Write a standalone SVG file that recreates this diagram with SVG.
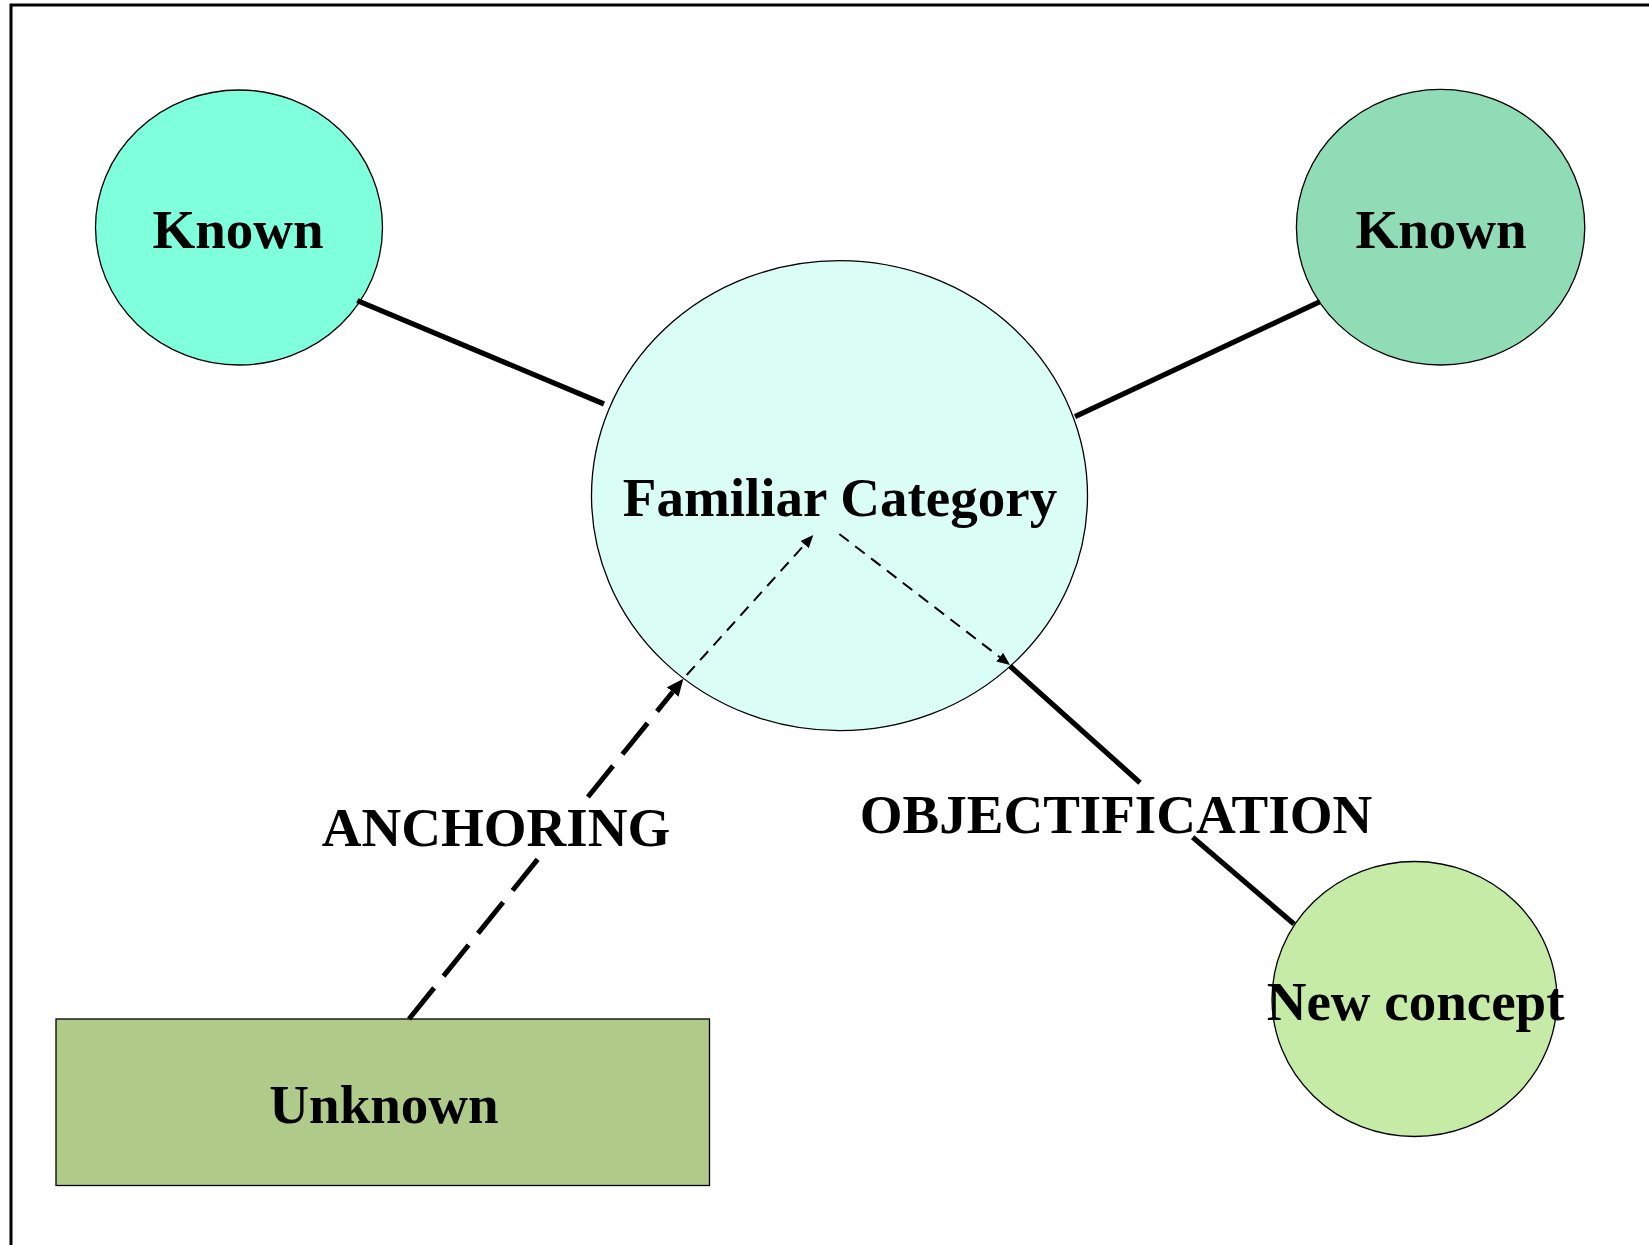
<svg xmlns="http://www.w3.org/2000/svg" width="1649" height="1245" viewBox="0 0 1649 1245">
  <style>
    .node { stroke: #000; stroke-width: 1.3; }
    .lbl { font-family: "Liberation Serif", "Times New Roman", serif; font-weight: bold; font-size: 55px; fill: #000; text-anchor: middle; }
    .solid { stroke: #000; stroke-width: 5.2; fill: none; }
    .thickdash { stroke: #000; stroke-width: 5; fill: none; stroke-dasharray: 40 15; }
    .thindash { stroke: #000; stroke-width: 2; fill: none; stroke-dasharray: 12 8; }
  </style>
  <defs>
    <marker id="headBig" markerUnits="userSpaceOnUse" markerWidth="17" markerHeight="15" refX="0" refY="7.5" orient="auto" viewBox="0 0 17 15">
      <path d="M0,0 L17,7.5 L0,15 z" fill="#000"/>
    </marker>
    <marker id="headSmall" markerUnits="userSpaceOnUse" markerWidth="13" markerHeight="11" refX="0" refY="5.5" orient="auto" viewBox="0 0 13 11">
      <path d="M0,0 L13,5.5 L0,11 z" fill="#000"/>
    </marker>
  </defs>

  <rect width="1649" height="1245" fill="#fff"/>
  <!-- page frame -->
  <rect x="11" y="5" width="1660" height="1260" fill="none" stroke="#000" stroke-width="3"/>

  <g id="known-left">
    <ellipse class="node" cx="239" cy="227.5" rx="143.5" ry="137.5" fill="#80FFDC"/>
    <text class="lbl" x="238" y="248">Known</text>
  </g>
  <g id="known-right">
    <ellipse class="node" cx="1440.6" cy="227.2" rx="144.2" ry="137.8" fill="#90DCB6"/>
    <text class="lbl" x="1441" y="248">Known</text>
  </g>
  <g id="familiar-category">
    <ellipse class="node" cx="839.5" cy="495.7" rx="248" ry="235" fill="#DAFDF5"/>
    <text class="lbl" x="840" y="516">Familiar Category</text>
  </g>
  <g id="unknown">
    <rect class="node" x="56" y="1019" width="653.5" height="166.5" fill="#AFCA89"/>
    <text class="lbl" x="384" y="1123">Unknown</text>
  </g>
  <g id="new-concept">
    <ellipse class="node" cx="1414.5" cy="999" rx="142.5" ry="137.5" fill="#C5EBA6"/>
    <text class="lbl" x="1415.6" y="1020">New concept</text>
  </g>

  <g id="connectors">
    <!-- Known nodes to the familiar category -->
    <line class="solid" x1="357.3" y1="300.7" x2="604" y2="404"/>
    <line class="solid" x1="1075" y1="416.7" x2="1320" y2="301.7"/>
    <!-- anchoring: unknown into the category -->
    <line class="thickdash" x1="409" y1="1019" x2="546.8" y2="848"/>
    <line class="thickdash" x1="587.9" y1="797" x2="672.7" y2="692" marker-end="url(#headBig)"/>
    <line class="thindash" x1="686.7" y1="675" x2="804.6" y2="544.6" marker-end="url(#headSmall)"/>
    <!-- objectification: category out to the new concept -->
    <line class="thindash" x1="839.3" y1="534" x2="999.7" y2="657.1" marker-end="url(#headSmall)"/>
    <line class="solid" x1="1010" y1="666" x2="1140" y2="782.7"/>
    <line class="solid" x1="1192.7" y1="837.3" x2="1294" y2="924"/>
    <text class="lbl" x="496" y="846">ANCHORING</text>
    <text class="lbl" x="1116" y="833">OBJECTIFICATION</text>
  </g>
</svg>
